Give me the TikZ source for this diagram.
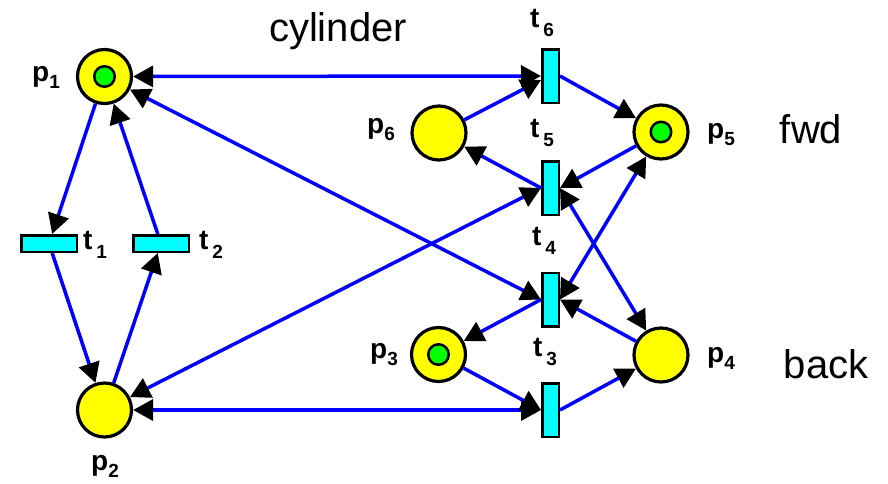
\documentclass[tikz,border=0pt]{standalone}
\usepackage{fontspec}
\setmainfont{Liberation Sans}
\usetikzlibrary{arrows.meta}
\definecolor{pyellow}{RGB}{255,255,0}
\definecolor{pgreen}{RGB}{0,255,0}
\definecolor{pcyan}{RGB}{0,255,255}
\definecolor{pblue}{RGB}{0,0,255}
\newcommand{\plab}[2]{#1\raisebox{-7pt}{\fontsize{19}{19}\selectfont\bfseries #2}}
\newcommand{\tlab}[2]{#1\hspace{4pt}\raisebox{-9pt}{\fontsize{19}{19}\selectfont\bfseries #2}}
\begin{document}
\begin{tikzpicture}[x=1pt,y=-1pt,
  place/.style={circle,draw=black,line width=3.2pt,fill=pyellow,minimum size=54pt,inner sep=0pt},
  token/.style={circle,draw=black,line width=2.5pt,fill=pgreen,minimum size=20.5pt,inner sep=0pt},
  htrans/.style={rectangle,draw=black,line width=2.5pt,fill=pcyan,minimum width=55.5pt,minimum height=16.5pt,inner sep=0pt},
  vtrans/.style={rectangle,draw=black,line width=2.5pt,fill=pcyan,minimum width=16.5pt,minimum height=53.5pt,inner sep=0pt},
  lab/.style={font=\fontsize{28}{28}\selectfont\bfseries,inner sep=0pt},
  big/.style={font=\fontsize{40}{40}\selectfont,inner sep=0pt,anchor=base},
  tip/.tip={Triangle[length=20pt,width=21pt,color=black]},
  arc/.style={draw=pblue,line width=3.5pt,-tip},
  darc/.style={draw=pblue,line width=3.5pt,tip-tip},
]
\useasboundingbox (0,0) rectangle (888,483);
% places
\node[place] (p1) at (104.5,76.5) {};
\node[place] (p2) at (104.5,410) {};
\node[place] (p6) at (439,133) {};
\node[place] (p3) at (438.5,354.5) {};
\node[place] (p5) at (661,132) {};
\node[place] (p4) at (661,355) {};
\node[token] (k1) at (p1.center) {};
\node[token] (k3) at (p3.center) {};
\node[token] (k5) at (p5.center) {};
% transitions
\node[htrans] (t1) at (49,243.5) {};
\node[htrans] (t2) at (161,243.5) {};
\node[vtrans] (t6) at (550.5,76) {};
\node[vtrans] (t5) at (550.5,188) {};
\node[vtrans] (t4) at (550.5,299.5) {};
\node[vtrans] (t3) at (550.5,410) {};
% labels
\node[lab] (lp1) at (46,77) {\plab{p}{1}};
\node[lab] (lp2) at (105,466) {\plab{p}{2}};
\node[lab] (lp6) at (381,130) {\plab{p}{6}};
\node[lab] (lp3) at (384,355) {\plab{p}{3}};
\node[lab] (lp5) at (721,135) {\plab{p}{5}};
\node[lab] (lp4) at (721,358) {\plab{p}{4}};
\node[lab] (lt1) at (95,245) {\tlab{t}{1}};
\node[lab] (lt2) at (211,245) {\tlab{t}{2}};
\node[lab] (lt6) at (542,23) {\tlab{t}{6}};
\node[lab] (lt5) at (542,133) {\tlab{t}{5}};
\node[lab] (lt4) at (544,241) {\tlab{t}{4}};
\node[lab] (lt3) at (545,352) {\tlab{t}{3}};
\node[big] (cyl) at (338,41) {cylinder};
\node[big] (fwd) at (811,143) {fwd};
\node[big] (back) at (826,378) {back};
% arcs
\draw[arc] (p1) -- (t1);
\draw[arc] (t2) -- (p1);
\draw[arc] (t1) -- (p2);
\draw[arc] (p2) -- (t2);
\draw[darc] (p1) -- (t6.west);
\draw[darc] (p1) -- (t4.west);
\draw[darc] (p2) -- (t5.west);
\draw[darc] (p2) -- (t3.west);
\draw[arc] (p6) -- ([yshift=-4pt]t6.west);
\draw[arc] (t6.east) -- (p5);
\draw[arc] (p5) -- (t5.east);
\draw[arc] (t5.west) -- (p6);
\draw[darc] (t5.east) -- (p4);
\draw[darc] (t4.east) -- (p5);
\draw[arc] (p4) -- (t4.east);
\draw[arc] (t4.west) -- (p3);
\draw[arc] (p3) -- (t3.west);
\draw[arc] (t3.east) -- (p4);
\end{tikzpicture}
\end{document}
